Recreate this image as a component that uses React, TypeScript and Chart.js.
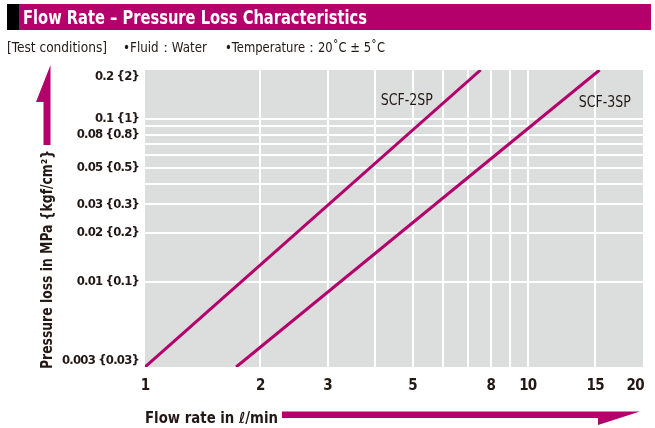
import React, { useEffect, useRef } from "react";
import { Chart, registerables } from "chart.js";

Chart.register(...registerables);

// ---- data ----
const X_TICKS = [1, 2, 3, 4, 5, 6, 7, 8, 9, 10, 15, 20];
const X_TICK_LABELS = ["1", "2", "3", "", "5", "", "", "8", "", "10", "15", "20"];
const Y_TICKS = [0.003, 0.01, 0.02, 0.03, 0.04, 0.05, 0.06, 0.07, 0.08, 0.09, 0.1, 0.2];
const Y_TICK_LABELS = [
  "0.003 {0.03}", "0.01 {0.1}", "0.02 {0.2}", "0.03 {0.3}", "", "0.05 {0.5}",
  "", "", "0.08 {0.8}", "", "0.1 {1}", "0.2 {2}",
];
const SERIES_NAMES = ["SCF-2SP", "SCF-3SP"];
const SCF2_FLOW = [1, 7.53];
const SCF2_LOSS = [0.003, 0.2];
const SCF3_FLOW = [1.73, 15.4];
const SCF3_LOSS = [0.003, 0.2];

const X_MIN = 1, X_MAX = 20, Y_MIN = 0.003, Y_MAX = 0.2;

// ---- styles ----
const MAGENTA = "#B4006B";
const GREY = "#DCDDDD";
const INK = "#231815";
const NARROW = '"Liberation Sans Narrow", "DejaVu Sans Condensed", "Roboto Condensed", sans-serif';

function fitText(ctx: CanvasRenderingContext2D, text: string, x: number, y: number, w: number, font: string, color: string) {
  ctx.save();
  ctx.font = font;
  ctx.fillStyle = color;
  ctx.textAlign = "left";
  ctx.textBaseline = "alphabetic";
  const m = ctx.measureText(text).width;
  ctx.translate(x, y);
  ctx.scale(w / m, 1);
  ctx.fillText(text, 0, 0);
  ctx.restore();
}

const decor = {
  id: "decor",
  beforeDraw(chart: any) {
    const { ctx, chartArea: a } = chart;
    ctx.save();
    ctx.fillStyle = GREY;
    ctx.fillRect(a.left, a.top, a.right - a.left, a.bottom - a.top);
    ctx.restore();
    // tighter tick text
    (ctx as any).letterSpacing = "-0.8px";
  },
  afterDraw(chart: any) {
    const ctx: CanvasRenderingContext2D = chart.ctx;
    (ctx as any).letterSpacing = "0px";
    ctx.save();
    // title bar
    ctx.fillStyle = "#000";
    ctx.fillRect(7, 4, 12, 26);
    ctx.fillStyle = MAGENTA;
    ctx.fillRect(19, 4, 632, 26);
    fitText(ctx, "Flow Rate – Pressure Loss Characteristics", 23, 23.5, 344, `bold 19px ${NARROW}`, "#fff");
    // subtitle
    fitText(ctx, "[Test conditions]", 7, 52, 100, `14px ${NARROW}`, INK);
    fitText(ctx, "•Fluid：Water", 123, 52, 84, `14px ${NARROW}`, INK);
    fitText(ctx, "•Temperature：20˚C ± 5˚C", 225, 52, 160, `14px ${NARROW}`, INK);

    // series labels
    fitText(ctx, SERIES_NAMES[0], 380.7, 105, 52, `16px ${NARROW}`, INK);
    fitText(ctx, SERIES_NAMES[1], 578.7, 106.5, 52, `16px ${NARROW}`, INK);

    // y arrow
    ctx.fillStyle = MAGENTA;
    ctx.beginPath();
    ctx.moveTo(50.5, 65);
    ctx.lineTo(50.5, 145);
    ctx.lineTo(43.5, 145);
    ctx.lineTo(43.5, 102);
    ctx.lineTo(36, 102);
    ctx.closePath();
    ctx.fill();
    // x arrow
    ctx.beginPath();
    ctx.moveTo(282, 411.5);
    ctx.lineTo(640, 411.5);
    ctx.lineTo(598, 425);
    ctx.lineTo(598, 418);
    ctx.lineTo(282, 418);
    ctx.closePath();
    ctx.fill();

    // x title
    fitText(ctx, "Flow rate in ℓ/min", 145, 423, 133, `bold 15px ${NARROW}`, INK);

    // y title (rotated)
    ctx.save();
    ctx.translate(51.5, 369);
    ctx.rotate(-Math.PI / 2);
    fitText(ctx, "Pressure loss in MPa {kgf/cm²}", 0, 0, 219, `bold 15px ${NARROW}`, INK);
    ctx.restore();

    ctx.restore();
  },
};

export default function App() {
  const ref = useRef<HTMLCanvasElement>(null);
  useEffect(() => {
    document.body.style.margin = "0";
    const gridColor = (edges: number[]) => (c: any) =>
      c.tick && edges.includes(c.tick.value) ? "rgba(0,0,0,0)" : "#ffffff";
    const chart = new Chart(ref.current!, {
      type: "scatter",
      data: {
        datasets: [
          {
            label: SERIES_NAMES[0],
            data: SCF2_FLOW.map((x, i) => ({ x, y: SCF2_LOSS[i] })),
            showLine: true,
            borderColor: MAGENTA,
            borderWidth: 3,
            pointRadius: 0,
          },
          {
            label: SERIES_NAMES[1],
            data: SCF3_FLOW.map((x, i) => ({ x, y: SCF3_LOSS[i] })),
            showLine: true,
            borderColor: MAGENTA,
            borderWidth: 3,
            pointRadius: 0,
          },
        ],
      },
      options: {
        responsive: false,
        animation: false,
        events: [],
        layout: { padding: { top: 70, right: 12, left: 0, bottom: 0 } },
        plugins: { legend: { display: false }, tooltip: { enabled: false } },
        scales: {
          x: {
            type: "logarithmic",
            min: X_MIN,
            max: X_MAX,
            bounds: "data",
            afterBuildTicks: (s: any) => { s.ticks = X_TICKS.map((v) => ({ value: v })); },
            afterFit: (s: any) => { s.height = 61; s.paddingLeft = 0; s.paddingRight = 0; },
            grid: { color: gridColor([X_MIN, X_MAX]), lineWidth: 2, drawTicks: false },
            border: { display: false },
            ticks: {
              autoSkip: false,
              maxRotation: 0,
              minRotation: 0,
              padding: 10,
              color: INK,
              font: { family: NARROW, size: 15, weight: "bold" },
              callback: (_v: any, i: number) => {
                const l = X_TICK_LABELS[i];
                return i === X_TICKS.length - 1 ? l + "    " : l;
              },
            },
          },
          y: {
            type: "logarithmic",
            min: Y_MIN,
            max: Y_MAX,
            bounds: "data",
            afterBuildTicks: (s: any) => { s.ticks = Y_TICKS.map((v) => ({ value: v })); },
            afterFit: (s: any) => { s.width = 145; s.paddingTop = 0; s.paddingBottom = 0; },
            grid: { color: gridColor([Y_MIN, Y_MAX]), lineWidth: 2, drawTicks: false },
            border: { display: false },
            ticks: {
              autoSkip: false,
              padding: 6,
              color: INK,
              font: { family: NARROW, size: 13, weight: "bold", lineHeight: 1.0 },
              callback: (_v: any, i: number) => {
                const l = Y_TICK_LABELS[i];
                if (i === Y_TICKS.length - 1) return ["", l];
                if (i === 0) return [l, ""];
                return l;
              },
            },
          },
        },
      },
      plugins: [decor],
    } as any);
    return () => chart.destroy();
  }, []);
  return (
    <div style={{ position: "absolute", left: 0, top: 0, width: 655, height: 428, background: "#fff" }}>
      <canvas ref={ref} width={655} height={428} style={{ display: "block", width: 655, height: 428 }} />
    </div>
  );
}
